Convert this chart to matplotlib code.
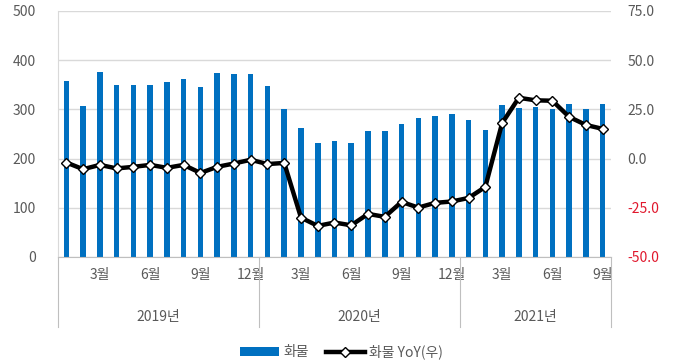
import matplotlib
matplotlib.use("Agg")
import matplotlib.pyplot as plt
import matplotlib.transforms as mtransforms
from matplotlib.lines import Line2D
from matplotlib.patches import Patch

plt.rcParams['font.family'] = ['Noto Sans CJK KR', 'DejaVu Sans']

# monthly data 2019.01 - 2021.09
cargo = [358, 307, 375, 349, 349, 349, 356, 362, 346, 374, 371, 371,
         347, 300, 262, 231, 235, 232, 256, 256, 270, 282, 286, 291,
         278, 258, 309, 302, 305, 300, 310, 300, 311]
cargo_yoy = [-2.0, -5.4, -3.2, -5.0, -4.2, -3.2, -4.7, -3.2, -7.3, -4.2, -2.5, -0.6,
             -2.8, -2.2, -30.0, -34.2, -32.5, -33.9, -28.1, -29.6, -22.0, -24.9, -22.5, -21.8,
             -20.0, -14.4, 18.0, 30.9, 29.6, 29.4, 21.2, 17.1, 15.1]
years = ['2019년', '2020년', '2021년']
month_ticks = [3, 6, 9, 12]

grey = '#595959'
blue = '#0070C0'

fig = plt.figure(figsize=(6.83, 3.64), dpi=100)
ax = fig.add_axes([0.0849, 0.294, 0.8097, 0.6758])
ax2 = ax.twinx()

x = list(range(len(cargo)))
ax.bar(x, cargo, width=0.33, color=blue, zorder=2)
ax2.plot(x, cargo_yoy, color='black', lw=3.2, marker='D', ms=5.5,
         mfc='white', mec='black', mew=1.0, zorder=3)

ax.set_xlim(-0.5, len(cargo) - 0.5)
ax.set_ylim(0, 500)
ax.set_yticks(range(0, 501, 100))
ax2.set_ylim(-50, 75)
ax2.set_yticks([-50, -25, 0, 25, 50, 75])
ax2.set_yticklabels([f'{v:.1f}' for v in [-50, -25, 0, 25, 50, 75]])
for lbl, v in zip(ax2.get_yticklabels(), [-50, -25, 0, 25, 50, 75]):
    lbl.set_color('#E0182D' if v < 0 else grey)

ax.grid(axis='y', color='#D9D9D9', lw=1.0, zorder=0)
ax.set_axisbelow(True)

# month tick labels
pos, labs = [], []
for i in range(len(cargo)):
    m = i % 12 + 1
    if m in month_ticks:
        pos.append(i)
        labs.append(f'{m}월')
ax.set_xticks(pos)
ax.set_xticklabels(labs)

ax.tick_params(axis='x', length=0, pad=8, labelsize=10, labelcolor=grey)
ax.tick_params(axis='y', length=0, pad=16, labelsize=10, labelcolor=grey)
ax2.tick_params(axis='y', length=0, pad=12, labelsize=10)

for a in (ax, ax2):
    for s in ['top', 'right', 'left']:
        a.spines[s].set_visible(False)
ax.spines['bottom'].set_color('#BFBFBF')
ax.spines['left'].set_visible(True)
ax.spines['left'].set_color('#D9D9D9')
ax2.spines['bottom'].set_visible(False)

# year groups
trans = mtransforms.blended_transform_factory(ax.transData, ax.transAxes)
bounds = [-0.5, 11.5, 23.5, len(cargo) - 0.5]
for b in bounds:
    ax.add_line(Line2D([b, b], [0, -0.285], transform=trans, color='#BFBFBF',
                       lw=0.8, clip_on=False))
for k, yr in enumerate(years):
    ax.text((bounds[k] + bounds[k + 1]) / 2, -0.245, yr, transform=trans,
            ha='center', va='center', fontsize=10, color=grey)

handles = [Patch(facecolor=blue, edgecolor='none', label='화물'),
           Line2D([0], [0], color='black', lw=3.2, marker='D', ms=5.5,
                  mfc='white', mec='black', mew=1.0, label='화물 YoY(우)')]
leg = fig.legend(handles=handles, loc='center', bbox_to_anchor=(0.5, 0.033),
                 ncol=2, frameon=False, fontsize=10, handlelength=2.8,
                 columnspacing=1.2, handletextpad=0.3)
for t in leg.get_texts():
    t.set_color(grey)

fig.savefig('out.png', dpi=100)
